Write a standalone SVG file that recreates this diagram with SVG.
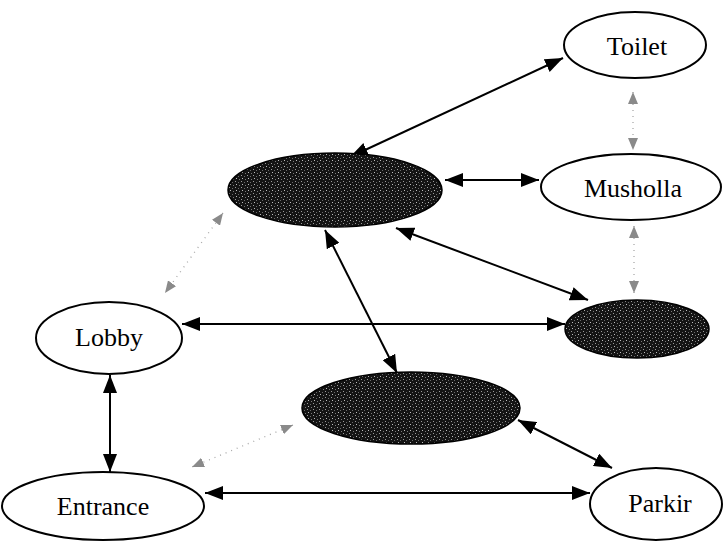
<svg xmlns="http://www.w3.org/2000/svg" width="723" height="542" viewBox="0 0 723 542">
  <style>
    .node { fill: #ffffff; stroke: #000; stroke-width: 2; }
    .dark { fill: url(#grain); stroke: #000; stroke-width: 1.5; }
    .label { font-family: "Liberation Serif", "Times New Roman", serif; font-size: 26px; fill: #000; text-anchor: middle; }
    .link { stroke: #000; stroke-width: 2; fill: none; marker-start: url(#head); marker-end: url(#head); }
    .faint { stroke: #a8a8a8; stroke-width: 1.3; stroke-dasharray: 1 5; fill: none; marker-start: url(#headFaint); marker-end: url(#headFaint); }
  </style>
  <defs>
    <marker id="head" viewBox="0 0 18 14" refX="18" refY="7" markerWidth="18" markerHeight="14" markerUnits="userSpaceOnUse" orient="auto-start-reverse">
      <path d="M0,0 L18,7 L0,14 z" fill="#000"/>
    </marker>
    <marker id="headFaint" viewBox="0 0 12 10" refX="12" refY="5" markerWidth="12" markerHeight="10" markerUnits="userSpaceOnUse" orient="auto-start-reverse">
      <path d="M0,0 L12,5 L0,10 z" fill="#8a8a8a"/>
    </marker>
    <!-- speckled dark fill for the shaded rooms -->
    <pattern id="grain" width="6" height="6" patternUnits="userSpaceOnUse">
      <rect width="6" height="6" fill="#141414"/>
      <rect x="1" y="1" width="1" height="1" fill="#9a9a9a"/>
      <rect x="4" y="2" width="1" height="1" fill="#6a6a6a"/>
      <rect x="2" y="4" width="1" height="1" fill="#bdbdbd"/>
      <rect x="5" y="5" width="1" height="1" fill="#7a7a7a"/>
    </pattern>
  </defs>

  <g id="connectors">
    <path class="link" d="M350,157 L563,58"/>
    <path class="link" d="M445,180 L539,180"/>
    <path class="link" d="M396,228 L588,300"/>
    <path class="link" d="M325,230 L397,373"/>
    <path class="link" d="M182,324 L565,324"/>
    <path class="link" d="M110,375 L110,472"/>
    <path class="link" d="M205,493 L590,493"/>
    <path class="link" d="M518,420 L612,468"/>
    <path class="faint" d="M223,213 L165,293"/>
    <path class="faint" d="M293,425 L192,467"/>
    <path class="faint" d="M633,92 L633,150"/>
    <path class="faint" d="M634,226 L634,293"/>
  </g>

  <g id="toilet">
    <ellipse class="node" cx="635" cy="45" rx="71" ry="33"/>
    <text class="label" x="637" y="55">Toilet</text>
  </g>
  <g id="musholla">
    <ellipse class="node" cx="631" cy="187" rx="90" ry="33"/>
    <text class="label" x="633" y="197">Musholla</text>
  </g>
  <g id="room-top">
    <ellipse class="dark" cx="335" cy="190" rx="107" ry="37"/>
  </g>
  <g id="room-right">
    <ellipse class="dark" cx="637" cy="329" rx="72" ry="29"/>
  </g>
  <g id="room-middle">
    <ellipse class="dark" cx="411" cy="408" rx="109" ry="36"/>
  </g>
  <g id="lobby">
    <ellipse class="node" cx="109" cy="338" rx="73" ry="36"/>
    <text class="label" x="109" y="346">Lobby</text>
  </g>
  <g id="entrance">
    <ellipse class="node" cx="103" cy="506" rx="101" ry="34"/>
    <text class="label" x="103" y="515">Entrance</text>
  </g>
  <g id="parkir">
    <ellipse class="node" cx="656" cy="504" rx="66" ry="36"/>
    <text class="label" x="660" y="512">Parkir</text>
  </g>
</svg>
